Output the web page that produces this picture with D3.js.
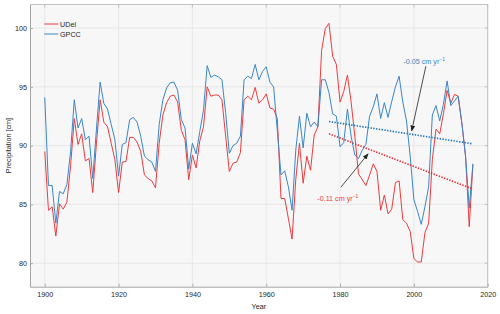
<!DOCTYPE html>
<html>
<head>
<meta charset="utf-8">
<script src="https://cdn.jsdelivr.net/npm/d3@7"></script>
<style>
  html, body { margin: 0; padding: 0; background: #ffffff; }
  svg { display: block; font-family: "Liberation Sans", Arial, sans-serif; }
</style>
</head>
<body>
<svg id="chart" width="500" height="314"></svg>
<script>
const startYear = 1900;
const udel = [
  89.5, 84.5, 84.8, 82.3, 85.05, 84.6, 85.2, 88.3, 92.3, 90.1,
  91.0, 88.7, 88.9, 86.0, 90.2, 93.9, 92.0, 91.6, 90.2, 88.8,
  86.0, 88.6, 88.65, 90.7, 90.7, 90.3, 89.5, 87.5, 87.2, 87.0,
  86.4, 90.2, 92.6, 93.65, 94.2, 94.3, 93.7, 91.3, 90.5, 87.1,
  89.2, 88.1, 90.4, 91.6, 95.0, 94.2, 94.3, 94.3, 93.9, 90.8,
  87.8, 88.5, 88.6, 89.4, 93.9, 94.2, 93.9, 94.95, 93.6, 93.9,
  94.4, 93.2, 93.1, 92.3, 85.5, 85.5, 83.8, 82.05, 87.1, 90.2,
  86.8, 89.1, 87.9, 90.9, 91.6, 98.1, 99.95, 100.4, 97.6, 96.9,
  93.7, 94.6, 96.0, 93.7, 90.8, 87.6, 87.1, 86.6, 87.5, 88.45,
  87.8, 84.5, 85.8, 84.2, 84.6, 86.85, 87.0, 83.7, 83.4, 82.7,
  80.4, 80.1, 80.1, 82.6, 83.4, 88.8, 91.4, 91.0, 92.7, 94.7,
  93.6, 94.35, 94.2, 91.9, 89.1, 83.1, 88.4
];
const gpcc = [
  94.1, 86.6, 86.6, 83.4, 86.1, 85.9, 86.7, 89.5, 93.9, 91.5,
  92.3, 90.5, 90.8, 87.2, 91.4, 95.4, 93.6, 93.1, 91.8, 90.5,
  87.4, 90.1, 90.25, 92.2, 92.4, 92.0, 90.8, 89.1, 88.8, 88.6,
  87.8, 91.8, 93.9, 94.9, 95.35, 95.4, 94.7, 92.2, 91.5, 88.0,
  90.2, 89.3, 91.2, 93.0, 96.8, 95.8, 96.0, 95.85, 95.6, 92.8,
  89.35, 90.0, 90.2, 90.8, 95.6, 95.9, 95.7, 96.9, 95.6, 96.3,
  96.7, 95.4, 95.0, 91.3, 87.5, 87.85, 86.5, 84.5, 89.6, 92.5,
  89.8, 92.75, 91.6, 92.0, 91.6, 95.6, 95.6, 94.5, 92.7, 92.5,
  89.9, 90.25, 93.1, 90.8, 89.2, 88.9, 89.6, 90.1, 92.5, 93.3,
  94.4, 92.3, 93.65, 92.4, 93.75, 95.0, 95.9, 93.7, 92.1, 89.1,
  85.4, 84.4, 83.3, 84.8, 86.5, 92.6, 93.4, 92.1, 93.5, 95.5,
  93.4, 93.8, 94.2, 91.9, 89.1, 84.7, 88.45
];
const years = udel.map((d, i) => startYear + i);

const trendYears = [1977, 2016];
const udelTrend = [91.0, 86.3];
const gpccTrend = [92.05, 90.15];

const xTicks = [1900, 1920, 1940, 1960, 1980, 2000, 2020];
const yTicks = [80, 85, 90, 95, 100];
const seriesNames = ["UDel", "GPCC"];
const seriesColors = ["#ee3b3f", "#3a86c8"];

// annotations in data units: [textYear, textValue, arrowFromYear, arrowFromValue, arrowToYear, arrowToValue]
const annotations = [
  { label: "-0.05 cm yr", sup: "−1", color: "#3a86c8", text: [2002.8, 96.98], from: [2003.25, 96.75], to: [1999.4, 91.25] },
  { label: "-0.11 cm yr", sup: "−1", color: "#ee3b3f", text: [1979.4, 85.33], from: [1980.2, 86.45], to: [1987.6, 89.3] }
];

const svg = d3.select("#chart");
const L = 30, R = 487.7, T = 4.5, B = 286.7;

const x = d3.scaleLinear().domain([1896, 2020]).range([L, R]);
const y = d3.scaleLinear().domain([78, 102]).range([B, T]);

// background
svg.append("rect").attr("x", L).attr("y", T).attr("width", R - L).attr("height", B - T)
  .attr("fill", "#f7f7f7");

// grid
const grid = svg.append("g").attr("stroke", "#e4e4e4").attr("stroke-width", 0.8);
xTicks.forEach(t => grid.append("line").attr("x1", x(t)).attr("x2", x(t)).attr("y1", T).attr("y2", B));
yTicks.forEach(t => grid.append("line").attr("x1", L).attr("x2", R).attr("y1", y(t)).attr("y2", y(t)));

// box (top/right)
svg.append("line").attr("x1", L).attr("x2", R).attr("y1", T).attr("y2", T).attr("stroke", "#b5b5b5").attr("stroke-width", 0.8);
svg.append("line").attr("x1", R).attr("x2", R).attr("y1", T).attr("y2", B).attr("stroke", "#b5b5b5").attr("stroke-width", 0.8);
// inward ticks top/right
yTicks.forEach(t => svg.append("line").attr("x1", R - 3).attr("x2", R).attr("y1", y(t)).attr("y2", y(t)).attr("stroke", "#b5b5b5").attr("stroke-width", 0.8));
xTicks.forEach(t => svg.append("line").attr("x1", x(t)).attr("x2", x(t)).attr("y1", T).attr("y2", T + 3).attr("stroke", "#b5b5b5").attr("stroke-width", 0.8));

// axes
const xAxis = d3.axisBottom(x).tickValues(xTicks).tickFormat(d3.format("d")).tickSizeInner(-3).tickSizeOuter(0).tickPadding(5.5);
const yAxis = d3.axisLeft(y).tickValues(yTicks).tickFormat(d3.format("d")).tickSizeInner(-3).tickSizeOuter(0).tickPadding(3);

const gx = svg.append("g").attr("transform", `translate(0,${B})`).call(xAxis);
const gy = svg.append("g").attr("transform", `translate(${L},0)`).call(yAxis);
[gx, gy].forEach(g => {
  g.select(".domain").attr("stroke", "#9a9a9a").attr("stroke-width", 0.9);
  g.selectAll(".tick line").attr("stroke", "#9a9a9a").attr("stroke-width", 0.8);
  g.selectAll(".tick text").attr("fill", "#262626").attr("font-size", 7.2)
    .attr("font-family", "'Liberation Sans', Arial, sans-serif");
});

// axis labels
svg.append("text").attr("x", (L + R) / 2).attr("y", 309).attr("text-anchor", "middle")
  .attr("font-size", 7.2).attr("fill", "#262626").text("Year");
svg.append("text").attr("transform", `translate(10.5,${(T + B) / 2}) rotate(-90)`)
  .attr("text-anchor", "middle").attr("font-size", 7.2).attr("fill", "#262626").text("Precipitation [cm]");

// series lines
const line = d3.line().x((d, i) => x(years[i])).y(d => y(d));
[udel, gpcc].forEach((s, k) => {
  svg.append("path").datum(s).attr("fill", "none").attr("stroke", seriesColors[k])
    .attr("stroke-width", 1).attr("stroke-linejoin", "round").attr("d", line);
});

// trend lines
const tline = d3.line().x((d, i) => x(trendYears[i])).y(d => y(d));
[udelTrend, gpccTrend].forEach((s, k) => {
  svg.append("path").datum(s).attr("fill", "none").attr("stroke", k === 0 ? "#ee2a2e" : "#1f74c0")
    .attr("stroke-width", 1.6).attr("stroke-dasharray", "1.4,1.4").attr("d", tline);
});

// arrow marker
svg.append("defs").append("marker").attr("id", "arr").attr("viewBox", "0 0 10 10")
  .attr("refX", 9).attr("refY", 5).attr("markerWidth", 6).attr("markerHeight", 6)
  .attr("orient", "auto").attr("markerUnits", "userSpaceOnUse")
  .append("path").attr("d", "M0,1 L10,5 L0,9 Z").attr("fill", "#222");

annotations.forEach(a => {
  svg.append("line").attr("x1", x(a.from[0])).attr("y1", y(a.from[1]))
    .attr("x2", x(a.to[0])).attr("y2", y(a.to[1]))
    .attr("stroke", "#222").attr("stroke-width", 0.8).attr("marker-end", "url(#arr)");
  const t = svg.append("text").attr("x", x(a.text[0])).attr("y", y(a.text[1]))
    .attr("text-anchor", "middle").attr("font-size", 7.2).attr("fill", a.color);
  t.append("tspan").text(a.label);
  t.append("tspan").attr("font-size", 5).attr("dy", -3).text(a.sup);
});

// legend
const leg = svg.append("g");
seriesNames.forEach((n, k) => {
  const ly = 24 + k * 10;
  leg.append("line").attr("x1", 44.3).attr("x2", 58.3).attr("y1", ly).attr("y2", ly)
    .attr("stroke", seriesColors[k]).attr("stroke-width", 1);
  leg.append("text").attr("x", 60).attr("y", ly + 2.6).attr("font-size", 7.2)
    .attr("fill", "#262626").text(n);
});
</script>
</body>
</html>
